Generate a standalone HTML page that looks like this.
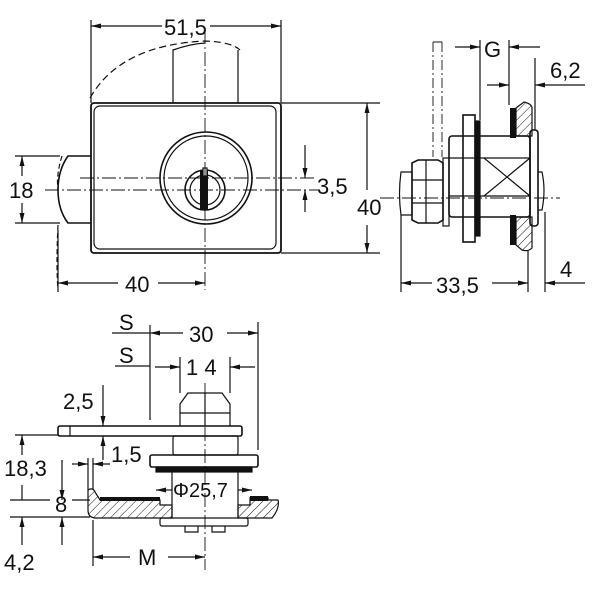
<!DOCTYPE html>
<html><head><meta charset="utf-8"><style>
html,body{margin:0;padding:0;background:#fff;}
svg{display:block;}
text{font-family:"Liberation Sans",sans-serif;font-size:22px;fill:#111;}
</style></head><body>
<svg width="600" height="600" viewBox="0 0 600 600" xmlns="http://www.w3.org/2000/svg">
<defs>
<marker id="a" viewBox="0 0 10 6" refX="10" refY="3" markerWidth="10" markerHeight="6" orient="auto-start-reverse" markerUnits="userSpaceOnUse"><path d="M0,0.5 L10,3 L0,5.5z" fill="#111"/></marker>
<pattern id="h" width="6" height="6" patternUnits="userSpaceOnUse" patternTransform="rotate(45)"><line x1="0" y1="0" x2="0" y2="6" stroke="#111" stroke-width="1"/></pattern>
</defs>
<g fill="none" stroke="#111" stroke-width="1.2">
<!-- FRONT VIEW -->
<path d="M90,98 Q120,45 205,41 Q232,42 240,50" stroke-dasharray="7,4"/>
<path d="M173,103 V50 Q190,44 205,43 M238,103 V50"/>
<rect x="91" y="103" width="190" height="150" rx="3" stroke-width="1.8"/>
<rect x="94" y="106" width="182" height="143" rx="6"/>
<path d="M91,156 H68 Q58,170 58,190 Q58,210 68,223 H91" stroke-width="1.6"/>
<path d="M62,156 Q56,175 58,190 M58,225 Q56,265 58,290" stroke-dasharray="5,3"/>
<circle cx="206" cy="178" r="46" stroke-width="1.6"/>
<circle cx="206" cy="178" r="42"/>
<circle cx="205" cy="190" r="20" stroke-width="1.6"/>
<circle cx="205" cy="190" r="15"/>
<rect x="200" y="170" width="8" height="40" fill="#111" stroke="none"/>
<rect x="203" y="168" width="4" height="8" fill="#fff" stroke="#111"/>
<path d="M80,178 H315 M45,190 H320 M205,30 V290" stroke-dasharray="14,3,2,3" stroke-width="0.9"/>
<line x1="91" y1="20" x2="91" y2="103"/><line x1="281" y1="20" x2="281" y2="103"/>
<line x1="91" y1="26" x2="162" y2="26" marker-start="url(#a)"/><line x1="210" y1="26" x2="281" y2="26" marker-end="url(#a)"/>
<line x1="281" y1="103" x2="380" y2="103"/><line x1="281" y1="253" x2="380" y2="253"/>
<line x1="367" y1="103" x2="367" y2="190" marker-start="url(#a)"/><line x1="367" y1="225" x2="367" y2="253" marker-end="url(#a)"/>
<line x1="15" y1="156" x2="60" y2="156"/><line x1="15" y1="223" x2="60" y2="223"/>
<line x1="22" y1="156" x2="22" y2="176" marker-start="url(#a)"/><line x1="22" y1="203" x2="22" y2="223" marker-end="url(#a)"/>
<line x1="305" y1="145" x2="305" y2="178" marker-end="url(#a)"/><line x1="305" y1="212" x2="305" y2="190" marker-end="url(#a)"/>
<line x1="58" y1="230" x2="58" y2="292"/>
<line x1="58" y1="283" x2="118" y2="283" marker-start="url(#a)"/><line x1="158" y1="283" x2="205" y2="283" marker-end="url(#a)"/>
<!-- SIDE VIEW -->
<path d="M433,42 V157 M442,42 V157 M433,42 H442" stroke-dasharray="10,3,2,3" stroke-width="0.9"/>
<path d="M401,172 H412 V215 H401 Q398,194 401,172z"/>
<path d="M412,163 L418,160 H438 L443,163 V220 L438,223 H418 L412,220z" stroke-width="1.6"/>
<path d="M412,180 H443 M412,203 H443 M426,160 V223"/>
<rect x="443" y="158" width="6" height="68"/>
<rect x="449" y="136" width="81" height="81" rx="3" stroke-width="1.6"/>
<path d="M449,158 H530 M449,196 H530 M484,158 L530,196 M484,196 L530,158"/>
<rect x="463" y="115" width="12" height="127" stroke-width="1.6"/>
<rect x="475" y="121" width="5" height="115" fill="#111"/>
<rect x="510" y="108" width="6" height="30" fill="#111" stroke="none"/>
<rect x="510" y="215" width="6" height="30" fill="#111" stroke="none"/>
<path d="M516,108 L524,102 Q532,104 532,108 V136 H516z" fill="url(#h)"/>
<path d="M516,217 H532 V248 Q528,252 522,250 L516,245z" fill="url(#h)"/>
<rect x="530" y="130" width="8" height="96" rx="3" stroke-width="1.6"/>
<path d="M538,172 H542 Q546,190 542,210 H538"/>
<path d="M380,198 H560" stroke-dasharray="14,3,2,3" stroke-width="0.9"/>
<line x1="480" y1="40" x2="480" y2="120"/><line x1="509" y1="40" x2="509" y2="105"/>
<line x1="455" y1="47" x2="480" y2="47" marker-end="url(#a)"/><line x1="540" y1="47" x2="509" y2="47" marker-end="url(#a)"/>
<line x1="535" y1="58" x2="535" y2="130"/>
<line x1="487" y1="85" x2="509" y2="85" marker-end="url(#a)"/><line x1="585" y1="85" x2="535" y2="85" marker-end="url(#a)"/>
<line x1="401" y1="215" x2="401" y2="292"/><line x1="528" y1="250" x2="528" y2="292"/><line x1="545" y1="212" x2="545" y2="292"/>
<line x1="401" y1="283" x2="432" y2="283" marker-start="url(#a)"/><line x1="492" y1="283" x2="528" y2="283" marker-end="url(#a)"/>
<line x1="585" y1="283" x2="545" y2="283" marker-end="url(#a)"/>
<!-- BOTTOM VIEW -->
<rect x="58" y="426" width="184" height="10" rx="2" stroke-width="1.6"/>
<line x1="70" y1="426" x2="70" y2="436"/>
<path d="M180,426 V404 L188,393 H222 L230,404 V426 M180,413 H230 M205,393 V426"/>
<rect x="173" y="436" width="65" height="19" rx="2"/>
<rect x="150" y="455" width="108" height="12" rx="2" stroke-width="1.6"/>
<rect x="156" y="467" width="96" height="5" fill="#111"/>
<path d="M172,472 V518 M238,472 V518"/>
<path d="M88,490 V510 Q88,518 96,518 H172 V505 H160 V500 H100 L95,492 Q93,487 88,490z" fill="url(#h)"/>
<rect x="100" y="497" width="60" height="4" fill="#111" stroke="none"/>
<path d="M238,505 H250 V498 H268 V500 H278 Q280,508 272,518 H238z" fill="url(#h)"/>
<rect x="250" y="496" width="18" height="5" fill="#111" stroke="none"/>
<rect x="160" y="518" width="88" height="8" rx="2"/>
<path d="M185,526 V532 H198 V526 M212,526 V532 H225 V526"/>
<path d="M205,383 V570" stroke-dasharray="14,3,2,3" stroke-width="0.9"/>
<line x1="150" y1="325" x2="150" y2="420"/><line x1="258" y1="322" x2="258" y2="450"/>
<line x1="112" y1="333" x2="150" y2="333"/><line x1="150" y1="333" x2="183" y2="333" marker-start="url(#a)"/><line x1="227" y1="333" x2="258" y2="333" marker-end="url(#a)"/>
<line x1="115" y1="366" x2="150" y2="366"/>
<line x1="180" y1="357" x2="180" y2="393"/><line x1="230" y1="357" x2="230" y2="393"/>
<line x1="155" y1="367" x2="180" y2="367" marker-end="url(#a)"/><line x1="255" y1="367" x2="230" y2="367" marker-end="url(#a)"/>
<line x1="103" y1="385" x2="103" y2="426" marker-end="url(#a)"/><line x1="103" y1="460" x2="103" y2="436" marker-end="url(#a)"/>
<line x1="15" y1="435" x2="58" y2="435"/><line x1="22" y1="435" x2="22" y2="455" marker-start="url(#a)"/><line x1="22" y1="485" x2="22" y2="500"/>
<line x1="10" y1="500" x2="50" y2="500"/><line x1="72" y1="500" x2="90" y2="500"/><line x1="10" y1="517" x2="90" y2="517"/>
<line x1="22" y1="517" x2="22" y2="545" marker-start="url(#a)"/>
<line x1="62" y1="460" x2="62" y2="500" marker-end="url(#a)"/><line x1="62" y1="545" x2="62" y2="517" marker-end="url(#a)"/>
<line x1="88" y1="458" x2="88" y2="490"/><line x1="93" y1="458" x2="93" y2="490"/>
<line x1="72" y1="464" x2="88" y2="464" marker-end="url(#a)"/><line x1="110" y1="464" x2="93" y2="464" marker-end="url(#a)"/>
<line x1="156" y1="490" x2="172" y2="490" marker-start="url(#a)"/><line x1="238" y1="490" x2="252" y2="490" marker-end="url(#a)"/>
<line x1="93" y1="520" x2="93" y2="566"/>
<line x1="93" y1="557" x2="130" y2="557" marker-start="url(#a)"/><line x1="168" y1="557" x2="205" y2="557" marker-end="url(#a)"/>
</g>
<text x="164" y="35">51,5</text>
<text x="357" y="215">40</text>
<text x="9" y="198">18</text>
<text x="317" y="194">3,5</text>
<text x="125" y="292">40</text>
<text x="484" y="57">G</text>
<text x="550" y="78">6,2</text>
<text x="436" y="293">33,5</text>
<text x="560" y="277">4</text>
<text x="119" y="330">S</text>
<text x="119" y="363">S</text>
<text x="189" y="342">30</text>
<text x="186" y="375">1 4</text>
<text x="63" y="409">2,5</text>
<text x="111" y="462">1,5</text>
<text x="4" y="476">18,3</text>
<text x="55" y="512">8</text>
<text x="173" y="497" style="font-size:20px">Φ25,7</text>
<text x="4" y="570">4,2</text>
<text x="138" y="565">M</text>
</svg>
</body></html>
